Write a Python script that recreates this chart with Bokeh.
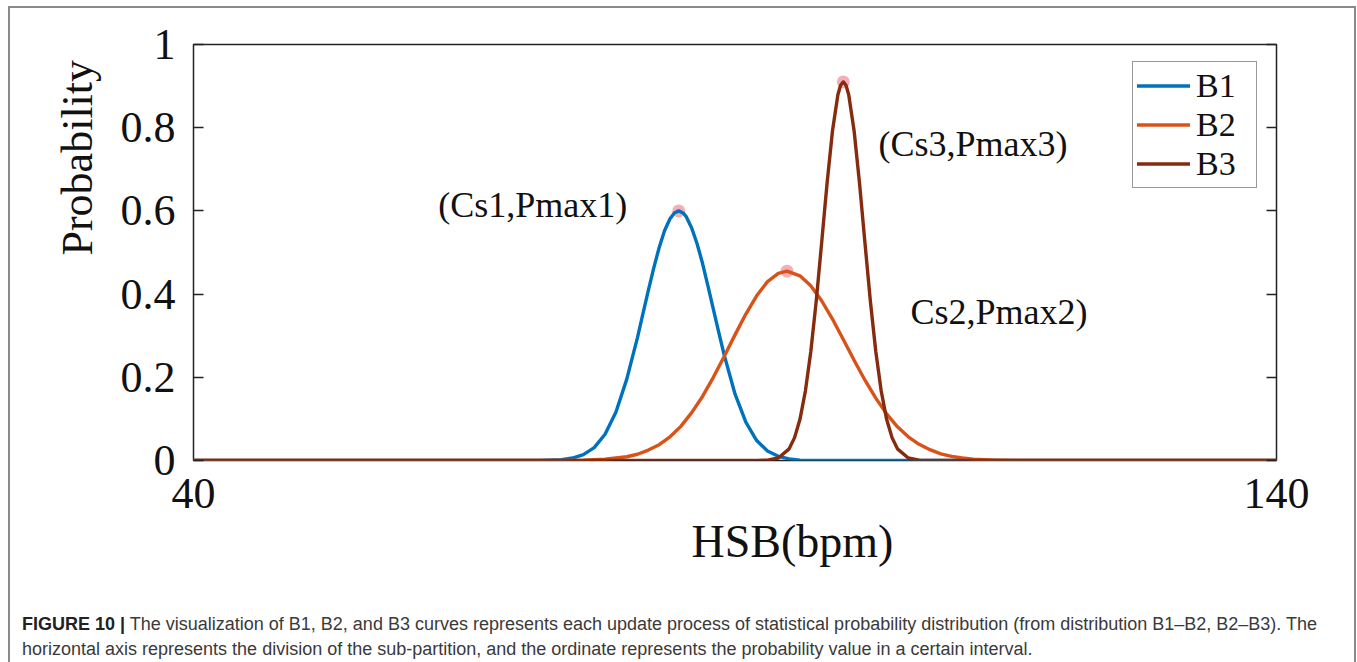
from bokeh.plotting import figure
from bokeh.layouts import column
from bokeh.models import (Range1d, FixedTicker, LinearAxis, Label, Legend, LegendItem, Title,
                          CustomJSTickFormatter, Div)
from bokeh.embed import file_html
from bokeh.resources import INLINE

# ---------------- data ----------------
b1_x = [40, 72, 74, 75, 76, 77, 78, 79, 80, 81, 81.5, 82, 82.5, 83, 83.5, 84, 84.4, 84.8, 85.2, 85.5, 86, 86.5,
        87, 87.5, 88, 88.5, 89, 90, 91, 92, 93, 94, 95, 96, 98, 140]
b1_y = [0, 0, 0.002, 0.006, 0.014, 0.031, 0.063, 0.116, 0.195, 0.296, 0.353, 0.409, 0.463, 0.512, 0.553,
        0.581, 0.595, 0.600, 0.595, 0.586, 0.559, 0.521, 0.474, 0.420, 0.364, 0.308, 0.254, 0.160, 0.092,
        0.048, 0.023, 0.010, 0.004, 0.001, 0, 0]

b2_x = [40, 72, 76, 78, 80, 81, 82, 83, 84, 85, 86, 87, 88, 89, 90, 91, 92, 93, 94, 94.8,
        96, 97, 98, 99, 100, 101, 102, 103, 104, 105, 106, 107, 108, 109, 110, 111, 112, 114, 116, 140]
b2_y = [0, 0, 0.001, 0.003, 0.009, 0.015, 0.025, 0.038, 0.057, 0.082, 0.115, 0.154, 0.200, 0.250, 0.302,
        0.352, 0.396, 0.430, 0.450, 0.455, 0.444, 0.420, 0.384, 0.340, 0.291, 0.241, 0.193, 0.150, 0.112,
        0.081, 0.057, 0.039, 0.026, 0.016, 0.010, 0.006, 0.003, 0.001, 0, 0]

b3_x = [40, 90, 92, 93, 94, 95, 95.5, 96, 96.5, 97, 97.5, 98, 98.5, 99, 99.5, 99.75, 100, 100.25, 100.5,
        101, 101.5, 102, 102.5, 103, 103.5, 104, 104.5, 105, 106, 107, 108, 110, 140]
b3_y = [0, 0, 0, 0.001, 0.006, 0.028, 0.055, 0.099, 0.167, 0.262, 0.383, 0.523, 0.666, 0.792, 0.879, 0.902,
        0.910, 0.902, 0.879, 0.792, 0.666, 0.523, 0.383, 0.262, 0.167, 0.099, 0.055, 0.028, 0.006, 0.001,
        0, 0, 0]

series_names = ["B1", "B2", "B3"]
series_colors = ["#0072BD", "#D95319", "#862B0D"]

peak_x = [84.8, 94.8, 100.0]
peak_y = [0.600, 0.455, 0.910]
peak_labels = ["(Cs1,Pmax1)", "Cs2,Pmax2)", "(Cs3,Pmax3)"]

x_ticks = [40, 140]
y_ticks = [0, 0.2, 0.4, 0.6, 0.8, 1]

x_title = "HSB(bpm)"
y_title = "Probability"
caption_bold = "FIGURE 10 |"
caption_line1 = ("The visualization of B1, B2, and B3 curves represents each update process of statistical "
                 "probability distribution (from distribution B1\u2013B2, B2\u2013B3). The")
caption_line2 = ("horizontal axis represents the division of the sub-partition, and the ordinate represents "
                 "the probability value in a certain interval.")

# ---------------- main figure ----------------
SERIF = "Liberation Serif"
W = 1357
H_MAIN = 596
H_CAP = 66

p = figure(width=W, height=H_MAIN, x_range=Range1d(40, 140), y_range=Range1d(0, 1),
           output_backend="svg", toolbar_location=None,
           min_border_left=193, min_border_right=81, min_border_top=44, min_border_bottom=136)
p.background_fill_color = "white"
p.border_fill_alpha = 0
p.outline_line_color = "#222222"
p.outline_line_width = 1.5
p.xgrid.visible = False
p.ygrid.visible = False

# bottom axis
p.xaxis.ticker = FixedTicker(ticks=x_ticks)
p.xaxis.axis_line_color = None
p.xaxis.major_tick_in = 0
p.xaxis.major_tick_out = 0
p.xaxis.minor_tick_line_color = None
p.xaxis.major_label_text_font = SERIF
p.xaxis.major_label_text_font_size = "44px"
p.xaxis.major_label_text_color = "#111111"
p.xaxis.major_label_standoff = 18

# left axis
p.yaxis.ticker = FixedTicker(ticks=y_ticks)
p.yaxis.formatter = CustomJSTickFormatter(code="return String(tick)")
p.yaxis.axis_line_color = None
p.yaxis.major_tick_in = 10
p.yaxis.major_tick_out = 0
p.yaxis.major_tick_line_width = 1.5
p.yaxis.major_tick_line_color = "#222222"
p.yaxis.minor_tick_line_color = None
p.yaxis.major_label_text_font = SERIF
p.yaxis.major_label_text_font_size = "44px"
p.yaxis.major_label_text_color = "#111111"
p.yaxis.major_label_standoff = 18

# right axis: ticks only (box)
ry = LinearAxis(ticker=FixedTicker(ticks=y_ticks), axis_line_color=None,
                major_tick_in=10, major_tick_out=0, major_tick_line_width=1.5,
                major_tick_line_color="#222222", minor_tick_line_color=None,
                major_label_text_color=None)
ry.formatter = CustomJSTickFormatter(code="return ''")
p.add_layout(ry, "right")

# axis titles (titles in the side panels, placed off-centre like the reference)
p.add_layout(Title(text=x_title, align="left", offset=498, standoff=6,
                   text_font=SERIF, text_font_size="46px", text_font_style="normal",
                   text_color="#111111"), "below")
p.add_layout(Title(text=y_title, align="left", offset=205, standoff=31,
                   text_font=SERIF, text_font_size="44px", text_font_style="normal",
                   text_color="#111111"), "left")

# peak markers
p.scatter(peak_x, peak_y, size=13, fill_color="#F29AA8", fill_alpha=0.8, line_color=None)

# curves
renderers = []
for xs, ys, c in [(b1_x, b1_y, series_colors[0]), (b2_x, b2_y, series_colors[1]),
                  (b3_x, b3_y, series_colors[2])]:
    r = p.line(xs, ys, line_color=c, line_width=3.4, line_join="round", line_cap="round")
    renderers.append(r)

legend = Legend(items=[LegendItem(label=n, renderers=[r]) for n, r in zip(series_names, renderers)],
                location=(939, 272), orientation="vertical",
                label_text_font=SERIF, label_text_font_size="34px", label_text_color="#111111",
                glyph_width=53, glyph_height=39, label_height=39, label_width=56,
                label_standoff=6, spacing=0, padding=4, margin=0,
                border_line_color="#333333", border_line_width=1.5,
                background_fill_color="white", background_fill_alpha=1.0)
p.add_layout(legend)

# peak annotations
ann_pos = [(62.6, 0.613), (106.2, 0.356), (103.25, 0.76)]
for (ax, ay), t in zip(ann_pos, peak_labels):
    p.add_layout(Label(x=ax, y=ay, text=t, text_font=SERIF, text_font_size="36px",
                       text_color="#111111", text_baseline="middle", text_align="left"))

# ---------------- caption ----------------
cap_html = (
    '<div style="padding:11px 0 0 17px; font-family:\'Liberation Sans\', Arial, sans-serif; '
    'font-size:18px; line-height:25px; color:#3a3a3a; white-space:nowrap;">'
    f'<b style="color:#222222">{caption_bold}</b> {caption_line1}<br>{caption_line2}</div>'
)
cap = Div(text=cap_html, width=W, height=H_CAP)

line_c = "linear-gradient(#8a8a8a, #8a8a8a)"
layout = column(p, cap, spacing=0, styles={
    "background-color": "white",
    "background-image": ", ".join([line_c] * 3),
    "background-position": "8px 6px, 1354px 6px, 8px 6px",
    "background-size": "2px 100%, 2px 100%, 1348px 2px",
    "background-repeat": "no-repeat",
})

open("out.html", "w").write(file_html(layout, INLINE))
